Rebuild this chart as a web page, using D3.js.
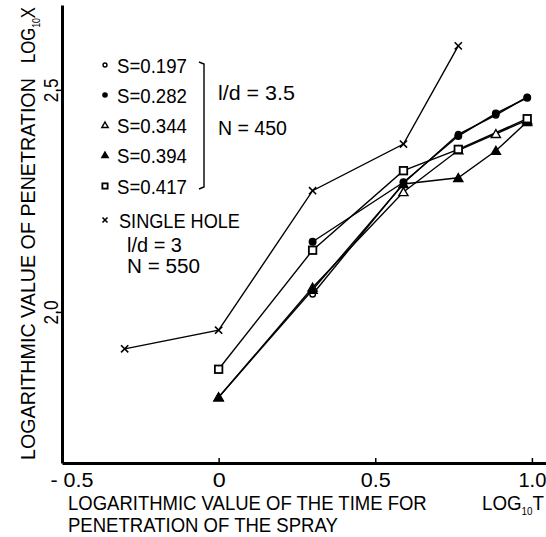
<!DOCTYPE html>
<meta charset="utf-8">
<title>Log penetration vs log time</title>
<script src="https://d3js.org/d3.v7.min.js"></script>
<style>
  body { margin: 0; background: #fff; }
  text { font-family: "Liberation Sans", Arial, sans-serif; fill: #000; }
</style>
<body>
</body>
<script>
  const width = 546, height = 537;

  // log10 T positions
  const logT = [-0.30, 0, 0.30, 0.59, 0.765, 0.885, 0.985];

  // log10 X for each series (null = no point)
  const s197 = [null, null, 2.040, 2.290, 2.400, 2.443, 2.484];
  const s282 = [null, null, 2.158, 2.292, 2.396, 2.447, 2.482];
  const s344 = [null, 1.808, 2.055, 2.270, 2.364, 2.401, 2.432];
  const s394 = [null, 1.808, 2.050, 2.288, 2.302, 2.363, 2.428];
  const s417 = [null, 1.871, 2.139, 2.318, 2.366, null, 2.435];
  const singleHole = [1.917, 1.959, 2.273, 2.378, 2.599, null, null];

  const seriesNames = ["S=0.197", "S=0.282", "S=0.344", "S=0.394", "S=0.417", "SINGLE HOLE"];
  const seriesValues = [s197, s282, s344, s394, s417, singleHole];
  const seriesMarks = ["circleOpen", "circle", "triOpen", "tri", "square", "cross"];

  const xTicks = [-0.5, 0, 0.5, 1.0];
  const xTickLabels = ["- 0.5", "0", "0.5", "1.0"];
  const yTicks = [2.0, 2.5];
  const yTickLabels = ["2.0", "2.5"];

  const x = d3.scaleLinear().domain([-0.5, 1.045]).range([62, 546]);
  const y = d3.scaleLinear().domain([1.66, 2.691]).range([463, 5]);

  const svg = d3.select("body").append("svg").attr("width", width).attr("height", height);

  // the original lettering is a narrow stencil face: squeeze text to the widths seen
  function squeeze(sel, target, pre) {
    sel.each(function() {
      const w = this.getComputedTextLength();
      d3.select(this).attr("transform", `${pre || ""} scale(${target / w},1)`);
    });
  }

  function label(g, x0, y0, parts, target, rot) {
    const t = g.append("text");
    parts.forEach(p => {
      const s = t.append("tspan").text(p.t);
      if (p.sub) s.attr("dy", 5).style("font-size", "11px");
      if (p.back) s.attr("dy", -5);
    });
    squeeze(t, target, `translate(${x0},${y0})${rot ? " rotate(-90)" : ""}`);
    return t;
  }

  ////////////////////////////////////////////////////////////
  ////////////////////////// Axes ////////////////////////////
  ////////////////////////////////////////////////////////////

  const xAxis = svg.append("g")
      .attr("transform", `translate(0,${y.range()[0]})`)
      .call(d3.axisBottom(x).tickValues(xTicks).tickSizeInner(-5).tickSizeOuter(0)
        .tickFormat((d, i) => xTickLabels[i]));
  xAxis.select(".domain").attr("stroke-width", 3);
  xAxis.selectAll(".tick line").attr("stroke-width", 1.5);
  xAxis.selectAll(".tick text")
      .attr("x", 0).attr("y", 24).attr("dy", 0)
      .style("font-size", "21px");
  const xTickW = [43, 13, 30, 28];
  xAxis.selectAll(".tick text").each(function(d, i) {
    const sel = d3.select(this);
    if (d === -0.5) sel.attr("text-anchor", "start");
    squeeze(sel, xTickW[i], d === -0.5 ? "translate(-12,0)" : "");
  });

  const yAxis = svg.append("g")
      .attr("transform", `translate(${x(-0.5)},0)`)
      .call(d3.axisLeft(y).tickValues(yTicks).tickSizeInner(5).tickSizeOuter(0)
        .tickFormat((d, i) => yTickLabels[i]));
  yAxis.select(".domain").attr("stroke-width", 3);
  yAxis.selectAll(".tick line").attr("stroke-width", 1.5);
  yAxis.selectAll(".tick text")
      .attr("x", 0).attr("y", -4).attr("dy", 0)
      .attr("text-anchor", "middle")
      .style("font-size", "21px");
  squeeze(yAxis.selectAll(".tick text"), 24, "rotate(-90)");

  // axis titles
  const xt = svg.append("g").style("font-size", "21px");
  label(xt, 68, 510, [{t: "LOGARITHMIC VALUE OF THE TIME FOR"}], 359);
  label(xt, 68, 532, [{t: "PENETRATION OF THE SPRAY"}], 270);
  label(xt, 482, 510, [{t: "LOG"}, {t: "10", sub: true}, {t: "T", back: true}], 62);

  const yt = svg.append("g").style("font-size", "21px");
  label(yt, 35, 460, [{t: "LOGARITHMIC VALUE OF PENETRATION"}], 382, true);
  label(yt, 35, 63, [{t: "LOG"}, {t: "10", sub: true}, {t: "X", back: true}], 56, true);

  ////////////////////////////////////////////////////////////
  //////////////////////// Markers ///////////////////////////
  ////////////////////////////////////////////////////////////

  function drawMark(g, kind, cx, cy, k) {
    // k scales the marker, legend uses smaller ones
    if (kind === "circleOpen") {
      g.append("circle").attr("cx", cx).attr("cy", cy).attr("r", 2.8 * k)
        .attr("fill", "#fff").attr("stroke", "#000").attr("stroke-width", 1.4);
    } else if (kind === "circle") {
      g.append("circle").attr("cx", cx).attr("cy", cy).attr("r", 4 * k).attr("fill", "#000");
    } else if (kind === "triOpen" || kind === "tri") {
      g.append("path")
        .attr("transform", `translate(${cx},${cy + k})`)
        .attr("d", d3.symbol(d3.symbolTriangle, 36 * k * k)())
        .attr("fill", kind === "tri" ? "#000" : "#fff")
        .attr("stroke", "#000").attr("stroke-width", 1.4);
    } else if (kind === "square") {
      const s = 7.5 * k;
      g.append("rect").attr("x", cx - s / 2).attr("y", cy - s / 2).attr("width", s).attr("height", s)
        .attr("fill", "#fff").attr("stroke", "#000").attr("stroke-width", 1.8);
    } else if (kind === "cross") {
      const h = 3.6 * k;
      g.append("path")
        .attr("d", `M${cx - h},${cy - h}L${cx + h},${cy + h}M${cx - h},${cy + h}L${cx + h},${cy - h}`)
        .attr("stroke", "#000").attr("stroke-width", 1.6);
    }
  }

  ////////////////////////////////////////////////////////////
  ///////////////////////// Lines ////////////////////////////
  ////////////////////////////////////////////////////////////

  const line = d3.line().x(d => x(d[0])).y(d => y(d[1]));
  const pts = vals => logT.map((t, i) => [t, vals[i]]).filter(d => d[1] != null);

  svg.append("g").selectAll("path")
      .data(seriesValues)
      .join("path")
      .attr("d", v => line(pts(v)))
      .attr("fill", "none")
      .attr("stroke", "#000")
      .attr("stroke-width", 1.4);

  const markG = svg.append("g");
  seriesValues.forEach((v, si) => {
    pts(v).forEach(p => drawMark(markG, seriesMarks[si], x(p[0]), y(p[1]), 1));
  });

  ////////////////////////////////////////////////////////////
  ///////////////////////// Legend ///////////////////////////
  ////////////////////////////////////////////////////////////

  const lg = svg.append("g").style("font-size", "21px");
  const rowY = [65, 95, 125, 155, 186, 220];
  seriesNames.forEach((name, i) => {
    drawMark(lg, seriesMarks[i], 105, rowY[i], 0.7);
    label(lg, i === 5 ? 119 : 117, rowY[i] + 7.5, [{t: name}], i === 5 ? 121 : 70);
  });
  label(lg, 127, 252, [{t: "l/d = 3"}], 55);
  label(lg, 127, 273, [{t: "N = 550"}], 73);

  // bracket for the multi-hole nozzle group
  lg.append("path")
      .attr("d", `M199,${rowY[0] - 3}L204,${rowY[0] - 1}L204,${rowY[4] + 1}L199,${rowY[4] + 3}`)
      .attr("fill", "none").attr("stroke", "#000").attr("stroke-width", 1.4);
  label(lg, 218, 100, [{t: "l/d = 3.5"}], 77);
  label(lg, 218, 135, [{t: "N = 450"}], 69);
</script>
